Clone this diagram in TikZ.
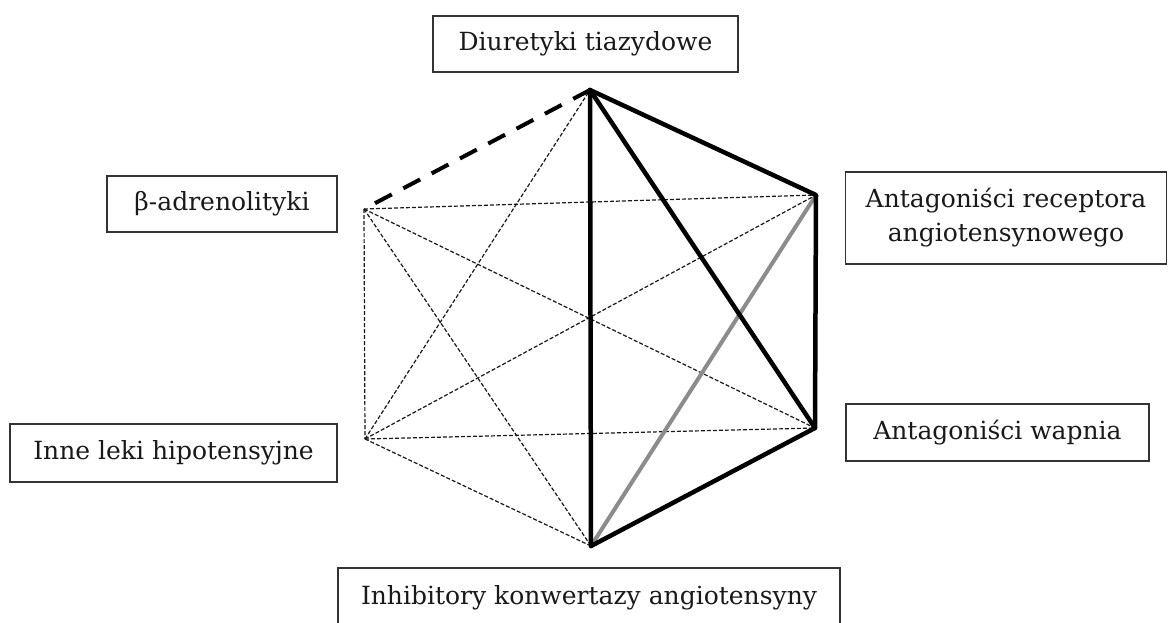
\documentclass[tikz,border=0pt]{standalone}
\usepackage{fontspec}
\setmainfont{DejaVu Serif}
\begin{document}
\begin{tikzpicture}[x=1pt,y=-1pt,
  lbl/.style={draw=black!80,line width=1.3pt,text=black!90,font=\fontsize{25}{34}\selectfont,inner sep=0pt,align=center},
  strong/.style={line width=4.5pt,black,line cap=round,line join=round},
  grayedge/.style={line width=4pt,black!45},
  thickdash/.style={line width=4pt,black,dash pattern=on 19pt off 13pt},
  thindash/.style={line width=1.2pt,black!90,dash pattern=on 4pt off 2pt}]
\useasboundingbox (0,0) rectangle (1168,622);
\fill[white] (0,0) rectangle (1168,622);
% vertices
\coordinate (T) at (590,90);
\coordinate (UR) at (816,195);
\coordinate (LR) at (815,428);
\coordinate (B) at (591,546);
\coordinate (LL) at (365,439);
\coordinate (UL) at (364,209);
% labels
\node[lbl,minimum width=305pt,minimum height=56pt] (nT) at (585.5,44) {Diuretyki tiazydowe};
\node[lbl,minimum width=230pt,minimum height=56pt] (nUL) at (222,204) {β-adrenolityki};
\node[lbl,minimum width=327pt,minimum height=58pt] (nLL) at (173.5,453) {Inne leki hipotensyjne};
\node[lbl,minimum width=321pt,minimum height=92pt] (nUR) at (1006,218) {Antagoniści receptora\\angiotensynowego};
\node[lbl,minimum width=303pt,minimum height=57pt] (nLR) at (997.5,432.5) {Antagoniści wapnia};
\node[lbl,minimum width=502pt,minimum height=60pt] (nB) at (589,598) {Inhibitory konwertazy angiotensyny};
% thin dashed edges
\draw[thindash] (UL) -- (UR);
\draw[thindash] (UL) -- (LR);
\draw[thindash] (UL) -- (LL);
\draw[thindash] (UL) -- (B);
\draw[thindash] (LL) -- (UR);
\draw[thindash] (LL) -- (LR);
\draw[thindash] (LL) -- (B);
\draw[thindash] (LL) -- (T);
% gray edge
\draw[grayedge] (B) -- (UR);
% thick dashed edge
\draw[thickdash] (T) -- (UL);
% strong edges
\draw[strong] (T) -- (B);
\draw[strong] (T) -- (UR) -- (LR) -- (B);
\draw[strong] (T) -- (LR);
\end{tikzpicture}
\end{document}
